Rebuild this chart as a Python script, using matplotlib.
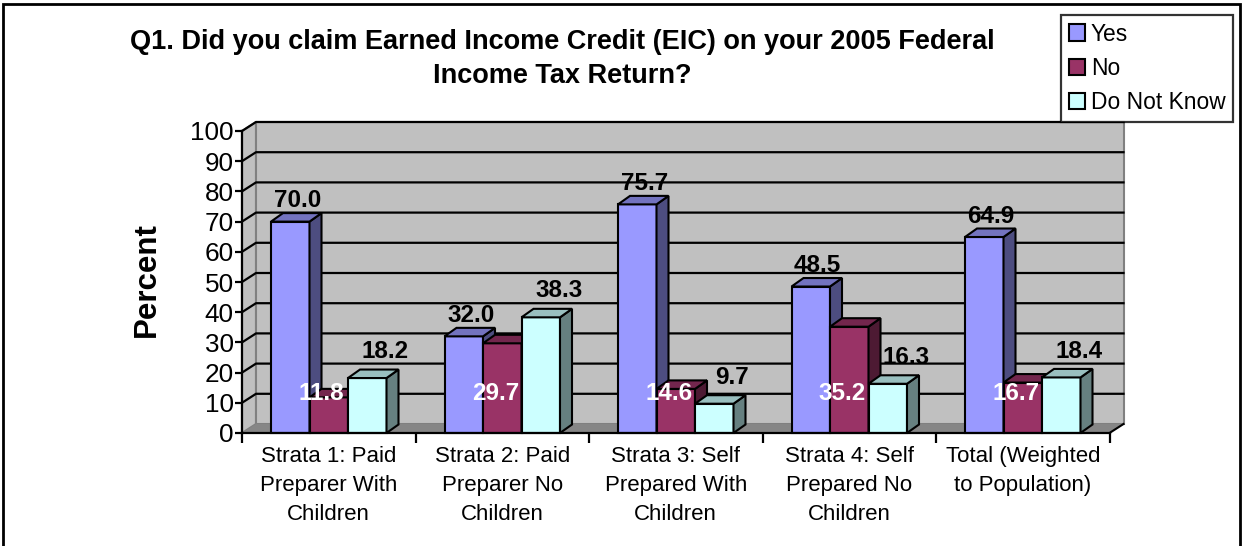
import matplotlib
matplotlib.use("Agg")
import matplotlib.pyplot as plt
from matplotlib.patches import Polygon, Rectangle, Patch

plt.rcParams['font.family'] = ['Liberation Sans', 'DejaVu Sans']

# Survey results (percent) per stratum
categories = ["Strata 1: Paid\nPreparer With\nChildren",
              "Strata 2: Paid\nPreparer No\nChildren",
              "Strata 3: Self\nPrepared With\nChildren",
              "Strata 4: Self\nPrepared No\nChildren",
              "Total (Weighted\nto Population)"]
series_names = ["Yes", "No", "Do Not Know"]
yes = [70.0, 32.0, 75.7, 48.5, 64.9]
no = [11.8, 29.7, 14.6, 35.2, 16.7]
dont_know = [18.2, 38.3, 9.7, 16.3, 18.4]
yticks = list(range(0, 101, 10))

# front / top / side shades for each series
front_colors = ["#9999FF", "#993366", "#CCFFFF"]
top_colors = ["#7373BF", "#73264D", "#99BFBF"]
side_colors = ["#4D4D80", "#4D1A33", "#668080"]

W, H = 1243, 546
fig = plt.figure(figsize=(W / 100, H / 100), dpi=100)

# plot area: front x-axis at y=433px, 100% at y=131px
ax = fig.add_axes([242 / W, (H - 433) / H, (1109.5 - 242) / W, (433 - 131) / H])
ax.set_xlim(0, 5)
ax.set_ylim(0, 100)
ax.patch.set_visible(False)

px_x = 5 / (1109.5 - 242)       # data units per pixel
px_y = 100 / (433 - 131)
wdx, wdy = 14 * px_x, 9 * px_y  # wall depth
bdx, bdy = 12 * px_x, 8.5 * px_y  # bar depth

wall = "#C0C0C0"
edge_gray = "#808080"

# side wall, back wall, floor
ax.add_patch(Polygon([(0, 0), (wdx, wdy), (wdx, 100 + wdy), (0, 100)],
                     closed=True, facecolor=wall, edgecolor=edge_gray,
                     lw=1.5, clip_on=False, zorder=0.5))
ax.add_patch(Rectangle((wdx, wdy), 5, 100, facecolor=wall, edgecolor=edge_gray,
                       lw=1.5, clip_on=False, zorder=0.5))
ax.add_patch(Polygon([(0, 0), (5, 0), (5 + wdx, wdy), (wdx, wdy)],
                     closed=True, facecolor="#868686", edgecolor="none",
                     clip_on=False, zorder=0.6))
ax.plot([5, 5 + wdx], [0, wdy], color="black", lw=1.5, clip_on=False, zorder=0.7)

# gridlines on back wall with diagonals on side wall
for v in yticks[1:]:
    ax.plot([0, wdx, 5 + wdx], [v, v + wdy, v + wdy], color="black",
            lw=1.6, clip_on=False, zorder=0.7)

# 3D bars
width = 38.5 / 173.5
data = [yes, no, dont_know]
for i in range(len(categories)):
    for j, vals in enumerate(data):
        v = vals[i]
        x0 = i + 0.5 + (j - 1) * width - width / 2
        x1 = x0 + width
        z = 2 + i * 0.1 + j * 0.01
        ax.add_patch(Rectangle((x0, 0), width, v, facecolor=front_colors[j],
                               edgecolor="black", lw=1.5, zorder=z, clip_on=False))
        ax.add_patch(Polygon([(x1, 0), (x1 + bdx, bdy), (x1 + bdx, v + bdy), (x1, v)],
                             closed=True, facecolor=side_colors[j],
                             edgecolor="black", lw=1.5, zorder=z, clip_on=False))
        ax.add_patch(Polygon([(x0, v), (x1, v), (x1 + bdx, v + bdy), (x0 + bdx, v + bdy)],
                             closed=True, facecolor=top_colors[j],
                             edgecolor="black", lw=1.5, zorder=z, clip_on=False))

        cx = (x0 + x1) / 2
        if j == 0:
            ax.annotate(f"{v:.1f}", (cx, v), xytext=(5, 15), textcoords="offset points",
                        ha="center", va="center", fontsize=17.5, fontweight="bold",
                        zorder=1.5)
        elif j == 1:
            ax.annotate(f"{v:.1f}", (cx, 13), xytext=(-5, 0), textcoords="offset points",
                        ha="center", va="center", fontsize=17.5, fontweight="bold",
                        color="white", zorder=10)
        else:
            ax.annotate(f"{v:.1f}", (cx, v), xytext=(13, 19), textcoords="offset points",
                        ha="center", va="center", fontsize=17.5, fontweight="bold",
                        zorder=1.5)

# axes lines and ticks
for s in ["top", "right"]:
    ax.spines[s].set_visible(False)
for s in ["left", "bottom"]:
    ax.spines[s].set_linewidth(1.6)
    ax.spines[s].set_zorder(5)
ax.set_yticks(yticks)
ax.set_yticklabels([str(t) for t in yticks], fontsize=18.8)
ax.tick_params(axis="y", length=5, width=1.6, pad=1)
ax.set_xticks(range(6))
ax.set_xticklabels([])
ax.tick_params(axis="x", length=7, width=1.6)
for i, c in enumerate(categories):
    ax.text(i + 0.5, -4.2, c, ha="center", va="top", fontsize=16,
            linespacing=1.52)

fig.text(147 / W, 1 - 280 / H, "Percent", rotation=90, ha="center", va="center",
         fontsize=22.5, fontweight="bold")

fig.text(562.5 / W, 1 - 59 / H,
         "Q1. Did you claim Earned Income Credit (EIC) on your 2005 Federal\nIncome Tax Return?",
         ha="center", va="center", fontsize=19.5, fontweight="bold", linespacing=1.38)

handles = [Patch(facecolor=c, edgecolor="black", lw=1.5) for c in front_colors]
leg = fig.legend(handles, series_names, loc="upper right",
                 bbox_to_anchor=(1233 / W, 1 - 15 / H), fontsize=16.4,
                 frameon=True, fancybox=False, edgecolor="black",
                 handlelength=0.72, handleheight=0.72, handletextpad=0.25,
                 labelspacing=0.5, borderpad=0.33, borderaxespad=0)
leg.get_frame().set_linewidth(1.6)

# outer chart border
fig.add_artist(Rectangle((2.5 / W, -0.1), (1240 - 2.5) / W, 1.1 - 3.5 / H,
                         transform=fig.transFigure, fill=False,
                         edgecolor="black", lw=2))

fig.savefig("out.png", dpi=100)
